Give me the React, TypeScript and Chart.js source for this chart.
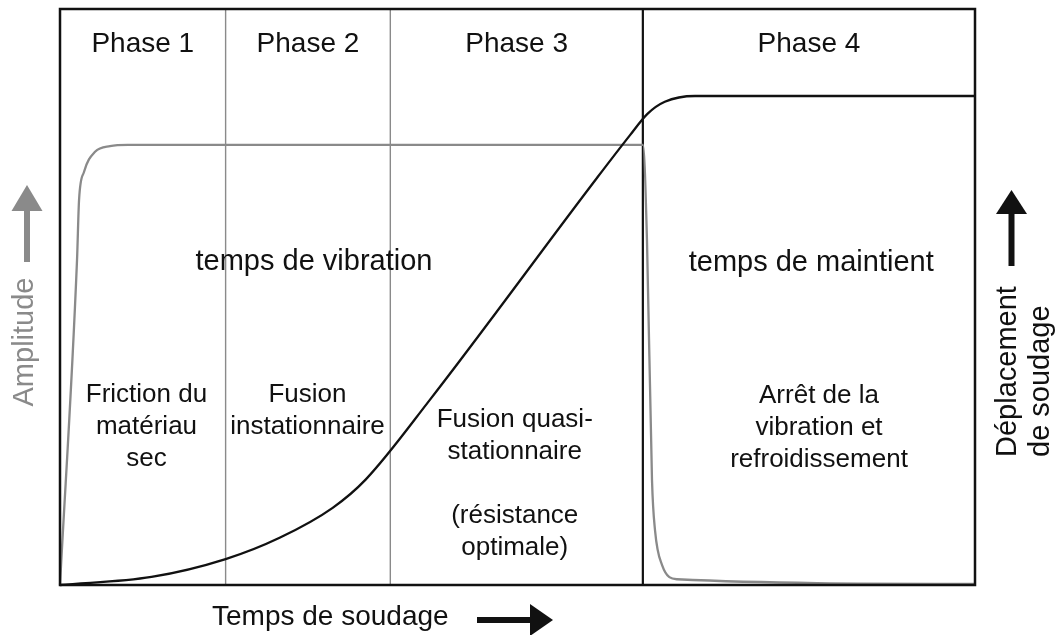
import React, { useEffect, useRef } from "react";
import { Chart, registerables } from "chart.js";

Chart.register(...registerables);

// ---- data (time 0..100, amplitude / displacement 0..100) ----
const phaseNames = ["Phase 1", "Phase 2", "Phase 3", "Phase 4"];
const phaseBounds = [0, 18.1, 36.1, 63.7, 100];

const amplitudeX = [0, 1.86, 2.08, 2.62, 3.83, 5.46, 7.43, 63.72, 64.15, 64.7, 65.03, 65.79, 67.43, 100];
const amplitudeY = [0, 56.4, 66.8, 71.7, 75.2, 76.2, 76.4, 76.4, 59.9, 18.2, 9.5, 3.5, 1.0, 0.2];

const displacementX = [0, 10, 18.1, 24, 29.8, 33.4, 40.4, 58.7, 62.3, 64.2, 66.1, 69.4, 100];
const displacementY = [0, 1.4, 4.5, 8.2, 13.4, 18.3, 32.1, 70.7, 78.1, 81.8, 83.9, 84.9, 84.9];

const headerY = 92.5;
const durationLabels = ["temps de vibration", "temps de maintient"];
const durationPos = [
  [27.76, 54.7],
  [82.1, 54.5],
];
const phaseTexts = [
  ["Friction du", "matériau", "sec"],
  ["Fusion", "instationnaire"],
  ["Fusion quasi-", "stationnaire", "", "(résistance", "optimale)"],
  ["Arrêt de la", "vibration et", "refroidissement"],
];
const phaseTextPos = [
  [9.45, 31.8],
  [27.05, 31.8],
  [49.7, 27.4],
  [82.95, 31.6],
];
const xAxisTitle = "Temps de soudage";
const leftAxisTitle = "Amplitude";
const rightAxisTitle = ["Déplacement", "de soudage"];

const GREY = "#8a8a8a";
const BLACK = "#111111";
const FONT = '"Liberation Sans", Arial, Helvetica, sans-serif';

const decorPlugin = {
  id: "decor",
  beforeDatasetsDraw(chart: any) {
    const { ctx, chartArea: a, scales } = chart;
    const xs = scales.x;
    ctx.save();
    // inner phase dividers
    for (let i = 1; i < phaseBounds.length - 1; i++) {
      const px = xs.getPixelForValue(phaseBounds[i]);
      const last = i === phaseBounds.length - 2;
      ctx.strokeStyle = last ? BLACK : GREY;
      ctx.lineWidth = last ? 2.2 : 1.4;
      ctx.beginPath();
      ctx.moveTo(px, a.top);
      ctx.lineTo(px, a.bottom);
      ctx.stroke();
    }
    ctx.restore();
  },
  afterDatasetsDraw(chart: any) {
    const { ctx, chartArea: a, scales } = chart;
    const xs = scales.x;
    const ys = scales.y;
    ctx.save();
    // frame
    ctx.strokeStyle = BLACK;
    ctx.lineWidth = 2.5;
    ctx.beginPath();
    ctx.moveTo(a.left, a.bottom);
    ctx.lineTo(a.left, a.top);
    ctx.lineTo(a.right, a.top);
    ctx.lineTo(a.right, a.bottom);
    ctx.closePath();
    ctx.stroke();

    ctx.fillStyle = BLACK;
    ctx.textAlign = "center";
    ctx.textBaseline = "alphabetic";

    // phase headers
    ctx.font = `28px ${FONT}`;
    for (let i = 0; i < phaseNames.length; i++) {
      const cx = xs.getPixelForValue((phaseBounds[i] + phaseBounds[i + 1]) / 2);
      ctx.fillText(phaseNames[i], cx, ys.getPixelForValue(headerY));
    }
    // durations
    ctx.font = `29px ${FONT}`;
    durationLabels.forEach((t, i) => {
      ctx.fillText(t, xs.getPixelForValue(durationPos[i][0]), ys.getPixelForValue(durationPos[i][1]));
    });
    // phase descriptions
    ctx.font = `26px ${FONT}`;
    const lh = 32;
    phaseTexts.forEach((lines, i) => {
      const cx = xs.getPixelForValue(phaseTextPos[i][0]);
      const y0 = ys.getPixelForValue(phaseTextPos[i][1]);
      lines.forEach((l, j) => {
        if (l) ctx.fillText(l, cx, y0 + j * lh);
      });
    });

    // x axis title + arrow
    ctx.font = `28px ${FONT}`;
    ctx.textAlign = "left";
    ctx.fillText(xAxisTitle, a.left + 152, a.bottom + 40);
    const ay = a.bottom + 35;
    ctx.fillRect(a.left + 417, ay - 3, 56, 6);
    ctx.beginPath();
    ctx.moveTo(a.left + 470, ay - 16);
    ctx.lineTo(a.left + 493, ay);
    ctx.lineTo(a.left + 470, ay + 16);
    ctx.closePath();
    ctx.fill();

    // left title + grey arrow
    ctx.save();
    ctx.fillStyle = GREY;
    ctx.font = `29px ${FONT}`;
    ctx.translate(33, 342);
    ctx.rotate(-Math.PI / 2);
    ctx.textAlign = "center";
    ctx.fillText(leftAxisTitle, 0, 0);
    ctx.restore();
    ctx.fillStyle = GREY;
    ctx.fillRect(24, 209, 6, 53);
    ctx.beginPath();
    ctx.moveTo(11.5, 211);
    ctx.lineTo(27, 185);
    ctx.lineTo(42.5, 211);
    ctx.closePath();
    ctx.fill();

    // right title + black arrow
    ctx.fillStyle = BLACK;
    ctx.save();
    ctx.font = `29px ${FONT}`;
    ctx.translate(1016, 457);
    ctx.rotate(-Math.PI / 2);
    ctx.textAlign = "left";
    ctx.fillText(rightAxisTitle[0], 0, 0);
    ctx.fillText(rightAxisTitle[1], 0, 33);
    ctx.restore();
    ctx.fillRect(1008.5, 212, 6, 54);
    ctx.beginPath();
    ctx.moveTo(996, 214);
    ctx.lineTo(1011.5, 190);
    ctx.lineTo(1027, 214);
    ctx.closePath();
    ctx.fill();

    ctx.restore();
  },
};

export default function App() {
  const ref = useRef<HTMLCanvasElement | null>(null);
  useEffect(() => {
    if (!ref.current) return;
    const chart = new Chart(ref.current, {
      type: "line",
      data: {
        datasets: [
          {
            label: "Déplacement",
            data: displacementX.map((x, i) => ({ x, y: displacementY[i] })),
            borderColor: BLACK,
            borderWidth: 2.3,
            pointRadius: 0,
            cubicInterpolationMode: "monotone",
            fill: false,
            clip: false as any,
            order: 0,
          },
          {
            label: "Amplitude",
            data: amplitudeX.map((x, i) => ({ x, y: amplitudeY[i] })),
            borderColor: GREY,
            borderWidth: 2.3,
            pointRadius: 0,
            cubicInterpolationMode: "monotone",
            fill: false,
            clip: false as any,
            order: 1,
          },
        ],
      },
      options: {
        responsive: false,
        animation: false,
        layout: { padding: { left: 60, top: 9, right: 84, bottom: 50 } },
        plugins: { legend: { display: false }, tooltip: { enabled: false }, title: { display: false } },
        events: [],
        scales: {
          x: { type: "linear", min: 0, max: 100, display: false },
          y: { type: "linear", min: 0, max: 100, display: false },
        },
      },
      plugins: [decorPlugin],
    });
    return () => chart.destroy();
  }, []);
  return (
    <div style={{ position: "absolute", left: 0, top: 0, width: 1059, height: 635, background: "#fff" }}>
      <canvas ref={ref} width={1059} height={635} style={{ display: "block" }} />
    </div>
  );
}
